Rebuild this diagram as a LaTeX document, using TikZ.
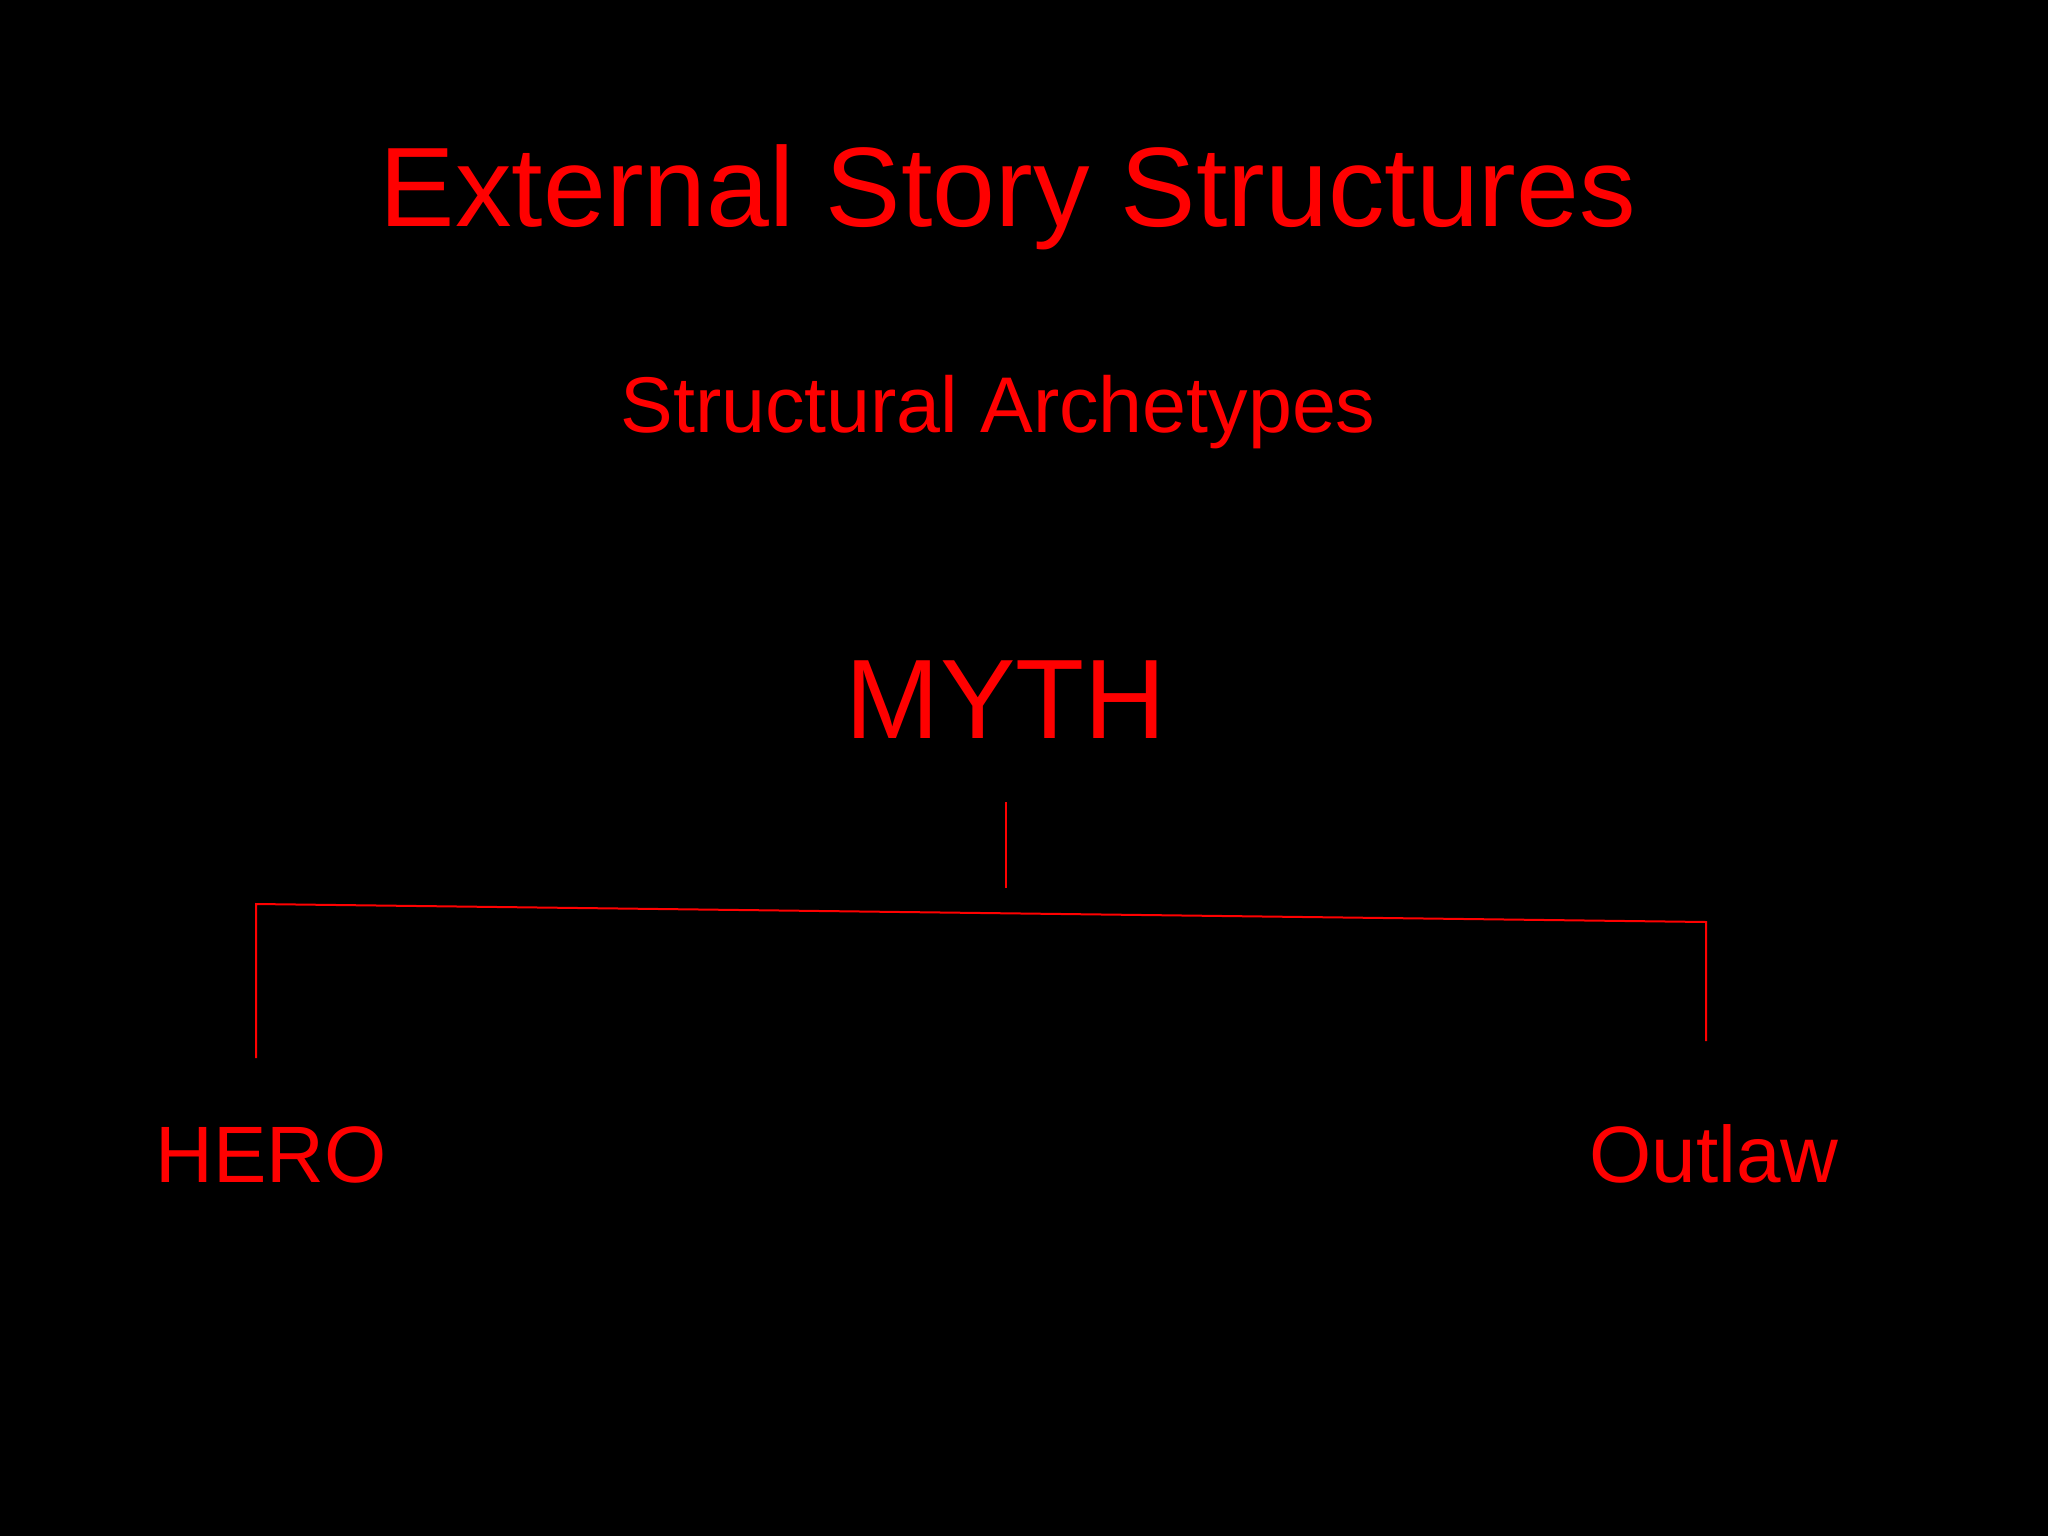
\documentclass[tikz,border=0pt]{standalone}
\usepackage{fontspec}
\setmainfont{Liberation Sans}
\definecolor{slidered}{RGB}{255,0,0}
\begin{document}
\begin{tikzpicture}[x=1pt,y=-1pt,
  lbl/.style={anchor=base,inner sep=0pt,text=slidered},
  conn/.style={draw=slidered,line width=2pt}]
\fill[black] (0,0) rectangle (2048,1536);
\useasboundingbox (0,0) rectangle (2048,1536);
\node[lbl,font=\fontsize{113}{113}\selectfont] (title) at (1008,226) {External Story Structures};
\node[lbl,font=\fontsize{79}{79}\selectfont] (sub) at (998,432) {Structural Archetypes};
\node[lbl,font=\fontsize{113}{113}\selectfont] (myth) at (1006,738) {MYTH};
\node[lbl,font=\fontsize{80}{80}\selectfont] (hero) at (271,1182) {HERO};
\node[lbl,font=\fontsize{80}{80}\selectfont] (outlaw) at (1714,1182) {Outlaw};
\coordinate (mtop) at (1006,802);
\coordinate (mbot) at (1006,888);
\coordinate (lt) at (256,904);
\coordinate (lb) at (256,1058);
\coordinate (rt) at (1706,922);
\coordinate (rb) at (1706,1041);
\draw[conn] (mtop) -- (mbot);
\draw[conn] (lb) -- (lt) -- (rt) -- (rb);
\end{tikzpicture}
\end{document}
